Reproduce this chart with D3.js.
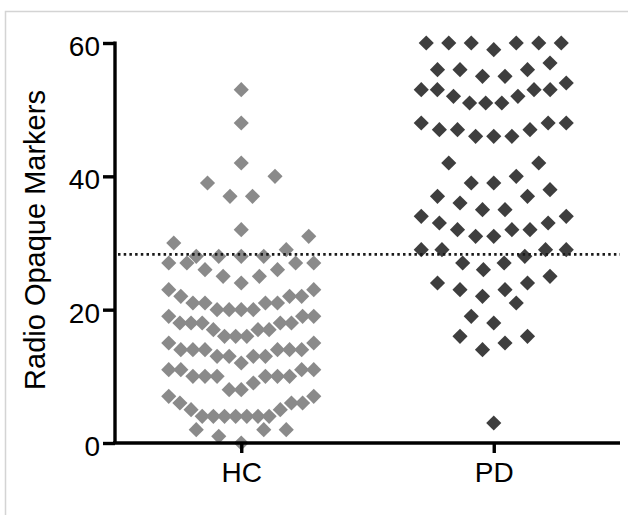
<!DOCTYPE html>
<html>
<head>
<meta charset="utf-8">
<script src="https://cdn.jsdelivr.net/npm/d3@7"></script>
<style>
  body { margin: 0; background: #fff; }
  svg { display: block; font-family: "Liberation Sans", Arial, Helvetica, sans-serif; }
</style>
</head>
<body>
<div id="chart"></div>
<script>
// groups on the x axis
const groups = ["HC", "PD"];

// radio opaque marker counts
const hcValues = [53, 48, 42, 40, 39, 37, 37, 32, 31, 30, 29,
  28, 28, 28, 28, 27, 27, 27, 27, 26, 26, 25, 25, 24, 23, 23,
  22, 22, 22, 21, 21, 21, 21, 20, 20, 20, 20, 19, 19, 19,
  18, 18, 18, 18, 18, 17, 17, 17, 16, 16, 16, 15, 15,
  14, 14, 14, 14, 14, 14, 13, 13, 13, 13, 12, 11, 11, 11, 11,
  10, 10, 10, 10, 10, 10, 9, 8, 8, 7, 7, 6, 6, 6, 5, 5,
  4, 4, 4, 4, 4, 4, 4, 2, 2, 2, 1, 0];

const pdValues = [60, 60, 60, 60, 60, 60, 59, 57, 56, 56, 56, 55, 55, 54,
  53, 53, 53, 53, 52, 52, 51, 51, 51, 48, 48, 48, 47, 47, 47, 46, 46, 46,
  42, 42, 40, 39, 39, 38, 37, 37, 36, 35, 35, 34, 34, 33, 33,
  32, 32, 32, 31, 31, 29, 29, 29, 29, 28, 27, 27, 26, 25, 24, 24,
  23, 23, 22, 21, 19, 18, 16, 16, 15, 14, 3];

const yTicks = [0, 20, 40, 60];
const cutoff = 28.3; // dotted reference line

const groupColor = { HC: "#8a8a8a", PD: "#3e3e3e" };

const width = 628, height = 515;

const svg = d3.select("#chart").append("svg")
  .attr("width", width)
  .attr("height", height);

// light frame at top/left like the screenshot
svg.append("path")
  .attr("d", `M5.5,${height} V11.5 H${width}`)
  .attr("fill", "none")
  .attr("stroke", "#d4d4d4")
  .attr("stroke-width", 1.5);

const x = d3.scalePoint().domain(groups).range([115, 620]).padding(0.5);
const y = d3.scaleLinear().domain([0, 60]).range([443, 43]);

// prism style scatter: points binned into rows, lowest value in the middle
function swarm(values, rowSpan, maxStep, maxWidth) {
  const sorted = values.slice().sort(d3.ascending);
  const rows = [];
  sorted.forEach(v => {
    const r = rows[rows.length - 1];
    if (r && v - r[0] <= rowSpan) r.push(v);
    else rows.push([v]);
  });
  const out = [];
  rows.forEach(r => {
    const n = r.length;
    const step = n > 1 ? Math.min(maxStep, maxWidth / (n - 1)) : 0;
    const slots = d3.range(n).map(i => i - (n - 1) / 2)
      .sort((a, b) => Math.abs(a) - Math.abs(b) || a - b);
    r.forEach((v, i) => out.push({ value: v, dx: slots[i] * step }));
  });
  return out;
}

const diamond = d3.symbol().type(d3.symbolSquare).size(115);

[["HC", hcValues], ["PD", pdValues]].forEach(([g, vals]) => {
  const pts = swarm(vals, 3, 22.5, 145);
  svg.append("g").selectAll("path")
    .data(pts)
    .enter()
    .append("path")
    .attr("d", diamond)
    .attr("transform", d => `translate(${x(g) + d.dx},${y(d.value)}) rotate(45)`)
    .attr("fill", groupColor[g]);
});

// dotted line
svg.append("line")
  .attr("x1", 118).attr("x2", 620)
  .attr("y1", y(cutoff)).attr("y2", y(cutoff))
  .attr("stroke", "#1a1a1a")
  .attr("stroke-width", 2.6)
  .attr("stroke-dasharray", "2.5,3.2");

// axes
const yAxis = svg.append("g")
  .attr("transform", "translate(115,0)")
  .call(d3.axisLeft(y).tickValues(yTicks).tickSize(12).tickSizeOuter(0).tickPadding(3));

const xAxis = svg.append("g")
  .attr("transform", "translate(0,443)")
  .call(d3.axisBottom(x).tickSize(10).tickSizeOuter(0).tickPadding(9));

[yAxis, xAxis].forEach(a => {
  a.select(".domain").attr("stroke", "#000").attr("stroke-width", 3.4);
  a.selectAll(".tick line").attr("stroke", "#000").attr("stroke-width", 3.4);
  a.selectAll(".tick text").attr("fill", "#000").style("font-size", "28px");
});
yAxis.selectAll(".tick text").attr("dy", "0.45em");
xAxis.select(".domain").attr("d", "M113,0H620");
yAxis.select(".domain").attr("d", "M0,443V41.5");

svg.append("text")
  .attr("transform", "translate(45,240) rotate(-90)")
  .attr("text-anchor", "middle")
  .style("font-size", "29px")
  .attr("fill", "#000")
  .text("Radio Opaque Markers");
</script>
</body>
</html>
